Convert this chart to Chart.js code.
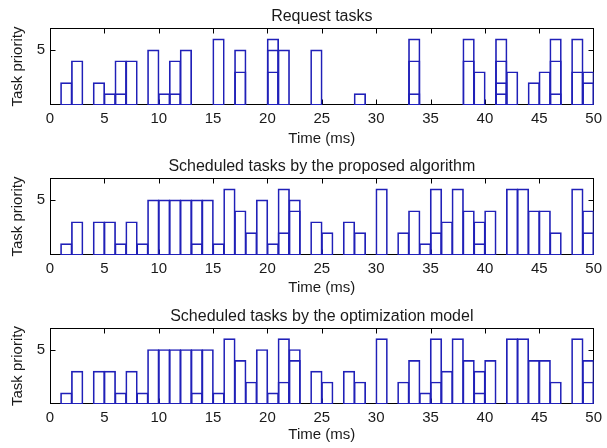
<!DOCTYPE html>
<html>
<head>
<meta charset="utf-8">
<script src="https://cdn.jsdelivr.net/npm/chart.js@4"></script>
<style>
  html, body { margin: 0; padding: 0; background: #fff; }
  #wrap { position: relative; width: 607px; height: 448px; }
  #wrap canvas { position: absolute; left: 0; }
</style>
</head>
<body>
<div id="wrap">
  <canvas id="c1" width="607" height="150" style="top:0"></canvas>
  <canvas id="c2" width="607" height="150" style="top:150px"></canvas>
  <canvas id="c3" width="607" height="148" style="top:300px"></canvas>
</div>
<script>
// Données : créneau de départ (ms) et priorités des tâches dans ce créneau
const xTicks = [0, 5, 10, 15, 20, 25, 30, 35, 40, 45, 50];
const yTicks = [5];

const requestSlots = [1, 2, 4, 5, 6, 7, 9, 10, 11, 12, 15, 17, 20, 21, 24, 28, 33, 38, 39, 41, 42, 44, 45, 46, 48, 49];
const requestPriorities = [[2], [4], [2], [1], [4, 1], [4], [5], [1], [4, 1], [5], [6], [5, 3], [6, 5, 3], [5], [5], [1],
    [6, 4, 1], [6, 4], [3], [6, 4, 2, 1], [3], [2], [3], [6, 4, 1], [6, 3], [3, 2]];

const proposedSlots = [1, 2, 4, 5, 6, 7, 8, 9, 10, 11, 12, 13, 14, 15, 16, 17, 18, 19, 20, 21, 22, 24, 25, 27, 28, 30,
    32, 33, 34, 35, 36, 37, 38, 39, 40, 42, 43, 44, 45, 46, 48, 49];
const proposedPriorities = [[1], [3], [3], [3], [1], [3], [1], [5], [5], [5], [5], [5, 1], [5], [1], [6], [4], [2], [5], [1],
    [6, 2], [5, 4], [3], [2], [3], [2], [6], [2], [4], [1], [6, 2], [3], [6], [4], [3, 1], [4], [6], [6], [4], [4], [2], [6], [4, 2]];

const optimSlots = [1, 2, 4, 5, 6, 7, 8, 9, 10, 11, 12, 13, 14, 15, 16, 17, 18, 19, 20, 21, 22, 24, 25, 27, 28, 30,
    32, 33, 34, 35, 36, 37, 38, 39, 40, 42, 43, 44, 45, 46, 48, 49];
const optimPriorities = [[1], [3], [3], [3], [1], [3], [1], [5], [5], [5], [5], [5, 1], [5], [1], [6], [4], [2], [5], [1],
    [6, 2], [5, 4], [3], [2], [3], [2], [6], [2], [4], [1], [6, 2], [3], [6], [4], [3, 1], [4], [6], [6], [4], [4], [2], [6], [4, 2]];

Chart.defaults.font.family = "'Liberation Sans', Arial, sans-serif";
Chart.defaults.color = '#1a1a1a';

const barBlue = '#2020b8';

// Une couche par rang de tâche : les barres se superposent dans le même créneau
function buildLayers(slots, prios) {
    const depth = Math.max(...prios.map(p => p.length));
    const layers = [];
    for (let k = 0; k < depth; k++) {
        const data = [];
        slots.forEach((s, i) => {
            if (prios[i][k] !== undefined) data.push({ x: s + 0.5, y: prios[i][k] });
        });
        layers.push({
            data: data,
            stack: 'p',
            grouped: false,
            backgroundColor: 'rgba(0,0,0,0)',
            borderColor: barBlue,
            borderWidth: 0.3,
            borderSkipped: false,
            inflateAmount: 0.7,
            barPercentage: 1,
            categoryPercentage: 1
        });
    }
    return layers;
}

// Cadre style MATLAB avec graduations vers l'intérieur
const framePlugin = {
    id: 'frame',
    beforeDatasetsDraw(chart) {
        const { ctx, chartArea: a, scales: { x, y } } = chart;
        const l = Math.round(a.left) + 0.5, r = Math.round(a.right) - 0.5;
        const t = Math.round(a.top) + 0.5, b = Math.round(a.bottom) - 0.5;
        ctx.save();
        ctx.strokeStyle = '#000';
        ctx.lineWidth = 1;
        ctx.strokeRect(l, t, r - l, b - t);
        ctx.beginPath();
        xTicks.slice(1, -1).forEach(v => {
            const px = Math.round(x.getPixelForValue(v)) + 0.5;
            ctx.moveTo(px, b); ctx.lineTo(px, b - 5);
            ctx.moveTo(px, t); ctx.lineTo(px, t + 5);
        });
        yTicks.forEach(v => {
            const py = Math.round(y.getPixelForValue(v)) + 0.5;
            ctx.moveTo(l, py); ctx.lineTo(l + 5, py);
            ctx.moveTo(r, py); ctx.lineTo(r - 5, py);
        });
        ctx.stroke();
        ctx.restore();
    }
};

function makePanel(id, title, slots, prios, xAxisHeight, timePad) {
    return new Chart(document.getElementById(id).getContext('2d'), {
        type: 'bar',
        data: { datasets: buildLayers(slots, prios) },
        plugins: [framePlugin],
        options: {
            responsive: false,
            animation: false,
            devicePixelRatio: 1,
            layout: { padding: { left: 0, right: 9, top: 0, bottom: 0 } },
            plugins: {
                legend: { display: false },
                tooltip: { enabled: false },
                title: {
                    display: true,
                    text: title,
                    fullSize: false,
                    font: { size: 16, weight: 'normal' },
                    color: '#1a1a1a',
                    padding: { top: 7, bottom: 2 }
                }
            },
            scales: {
                x: {
                    type: 'linear',
                    min: 0,
                    max: 50,
                    offset: false,
                    grid: { display: false, drawTicks: false },
                    border: { display: false },
                    afterBuildTicks: s => { s.ticks = xTicks.map(v => ({ value: v })); },
                    afterFit: s => { s.height = xAxisHeight; },
                    ticks: { font: { size: 15 }, padding: 5, maxRotation: 0, autoSkip: false },
                    title: {
                        display: true,
                        text: 'Time (ms)',
                        font: { size: 15 },
                        padding: { top: 0, bottom: timePad }
                    }
                },
                y: {
                    min: 0,
                    max: 7,
                    stacked: false,
                    grid: { display: false, drawTicks: false },
                    border: { display: false },
                    afterBuildTicks: s => { s.ticks = yTicks.map(v => ({ value: v })); },
                    afterFit: s => { s.width = 50; },
                    ticks: { font: { size: 15 }, padding: 5 },
                    title: {
                        display: true,
                        text: 'Task priority',
                        font: { size: 15 },
                        padding: { top: 9, bottom: 0 }
                    }
                }
            }
        }
    });
}

makePanel('c1', 'Request tasks', requestSlots, requestPriorities, 45, 2);
makePanel('c2', 'Scheduled tasks by the proposed algorithm', proposedSlots, proposedPriorities, 45, 3);
makePanel('c3', 'Scheduled tasks by the optimization model', optimSlots, optimPriorities, 44, 4);
</script>
</body>
</html>
